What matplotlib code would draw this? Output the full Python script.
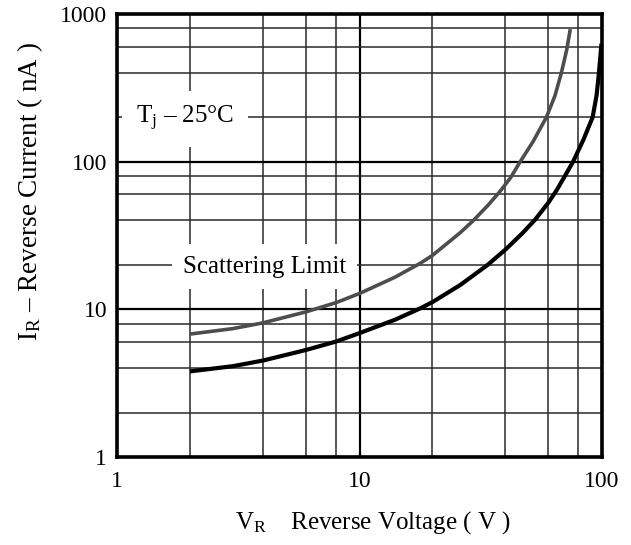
import matplotlib.pyplot as plt
from matplotlib.ticker import NullFormatter

# reverse current vs reverse voltage
v_upper = [2, 3, 4, 6, 8, 10, 14, 17.8, 20, 26, 29.5, 34, 38, 42, 46, 52, 59, 64, 68, 71.5, 74]
i_upper = [6.8, 7.4, 8.1, 9.6, 11.1, 12.8, 16.5, 20.5, 23.2, 33, 40, 51, 63, 78, 100, 137, 200, 280, 400, 570, 790]

v_lower = [2, 3, 4, 6, 8, 10, 14, 17.8, 20, 26, 33.5, 40, 47, 53, 60, 65, 70, 76, 84, 91.5, 95, 97, 98.5, 99.5]
i_lower = [3.8, 4.12, 4.5, 5.3, 6.05, 6.9, 8.5, 10.15, 11.2, 14.6, 19.8, 25.4, 32.8, 40.5, 52.6, 64, 79, 100, 142, 200, 282, 390, 520, 630]

x_major = [1, 10, 100]
x_minor = [2, 4, 6, 8, 20, 40, 60, 80]
y_major = [1, 10, 100, 1000]
y_minor = [2, 4, 6, 8, 20, 40, 60, 80, 200, 400, 600, 800]

plt.rcParams['font.family'] = ['Liberation Serif', 'DejaVu Serif']
plt.rcParams['mathtext.fontset'] = 'custom'
plt.rcParams['mathtext.rm'] = 'Liberation Serif'
plt.rcParams['mathtext.it'] = 'Liberation Serif:italic'

W, H = 631, 545
fig = plt.figure(figsize=(W / 100, H / 100), dpi=100)
ax = fig.add_axes([117 / W, 1 - 457 / H, (602 - 117) / W, (457 - 14) / H])

ax.set_xscale('log')
ax.set_yscale('log')
ax.set_xlim(1, 100)
ax.set_ylim(1, 1000)

ax.set_xticks(x_major)
ax.set_xticklabels([str(v) for v in x_major])
ax.set_xticks(x_minor, minor=True)
ax.set_yticks(y_major)
ax.set_yticklabels([str(v) for v in y_major])
ax.set_yticks(y_minor, minor=True)
ax.xaxis.set_minor_formatter(NullFormatter())
ax.yaxis.set_minor_formatter(NullFormatter())

ax.grid(True, which='major', color='black', lw=1.6, zorder=1)
ax.grid(True, which='minor', color='#2a2a2a', lw=1.1, zorder=1)
ax.set_axisbelow(True)
ax.tick_params(which='both', length=0, labelsize=17)
ax.tick_params(axis='x', pad=10)
ax.tick_params(axis='y', pad=7)
for s in ax.spines.values():
    s.set_linewidth(2.6)
    s.set_zorder(5)

ax.plot(v_upper, i_upper, color='#4d4d4d', lw=2.6, solid_capstyle='butt', zorder=4)
ax.plot(v_lower, i_lower, color='black', lw=3.0, solid_capstyle='butt', zorder=4)

ax.text(1.2, 195, r'T$_\mathrm{j}$ – 25°C', fontsize=18, ha='left', va='center', zorder=3,
        bbox=dict(boxstyle='square,pad=0.55', fc='white', ec='none'))
ax.text(1.87, 19.5, 'Scattering Limit', fontsize=18, ha='left', va='center', zorder=3,
        bbox=dict(boxstyle='square,pad=0.45', fc='white', ec='none'))

fig.text(373 / W, 1 - 523 / H, r'V$_\mathrm{R}$    Reverse Voltage ( V )', fontsize=18,
         ha='center', va='center')
fig.text(30 / W, 1 - 192 / H, r'I$_\mathrm{R}$ – Reverse Current ( nA )', fontsize=19.5,
         ha='center', va='center', rotation=90)

fig.savefig('out.png', dpi=100)
